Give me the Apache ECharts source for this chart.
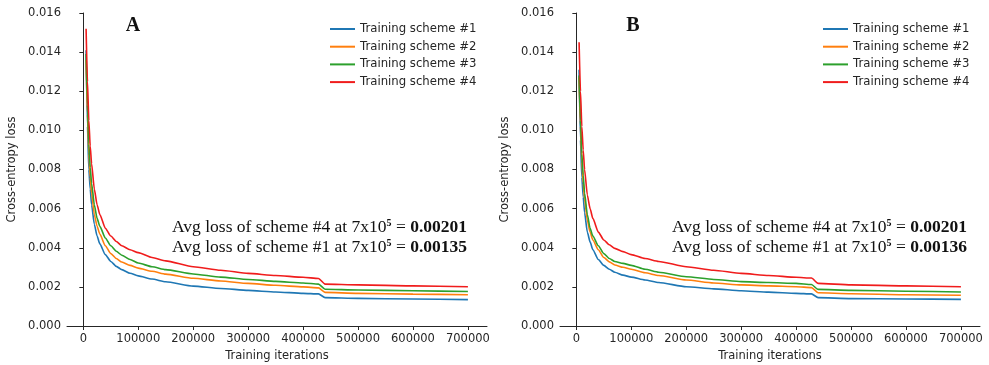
<!DOCTYPE html>
<html>
<head>
<meta charset="utf-8">
<script src="https://cdn.jsdelivr.net/npm/echarts@6/dist/echarts.min.js"></script>
<style>
html, body { margin: 0; padding: 0; background: #fff; }
#chart { width: 989px; height: 365px; }
</style>
</head>
<body>
<div id="chart"></div>
<script>
var iters = [5000, 7500, 10000, 12500, 15000, 20000, 25000, 30000, 40000, 50000, 60000, 70000, 85000, 100000, 125000, 150000, 200000, 250000, 300000, 350000, 400000, 428000, 440000, 500000, 600000, 700000];

var names = ['Training scheme #1', 'Training scheme #2', 'Training scheme #3', 'Training scheme #4'];
var colors = ['#1f77b4', '#ff7f0e', '#2ca02c', '#f01c1c'];

// panel A
var a_s1 = [0.0141, 0.0102, 0.0080, 0.0070, 0.0062, 0.0052, 0.0046, 0.0042, 0.00365, 0.0033, 0.00305, 0.00288, 0.0027, 0.00256, 0.0024, 0.00226, 0.00204, 0.00192, 0.00182, 0.00174, 0.00167, 0.00164, 0.00145, 0.00141, 0.00138, 0.00135];
var a_s2 = [0.0136, 0.0108, 0.0088, 0.0076, 0.0068, 0.0057, 0.0051, 0.0047, 0.0041, 0.0037, 0.00345, 0.00327, 0.0031, 0.00296, 0.0028, 0.00265, 0.00244, 0.0023, 0.00218, 0.00208, 0.00200, 0.00195, 0.00172, 0.00167, 0.00163, 0.0016];
var a_s3 = [0.0139, 0.0113, 0.0093, 0.0081, 0.0073, 0.0062, 0.0055, 0.0051, 0.0045, 0.0041, 0.00382, 0.00362, 0.0034, 0.00322, 0.00303, 0.00288, 0.00266, 0.0025, 0.00238, 0.00228, 0.0022, 0.00214, 0.00188, 0.00184, 0.0018, 0.00176];
var a_s4 = [0.0152, 0.0125, 0.0105, 0.0092, 0.0083, 0.0070, 0.0062, 0.0057, 0.0050, 0.0046, 0.00432, 0.0041, 0.0039, 0.00375, 0.0035, 0.00333, 0.00303, 0.00285, 0.00269, 0.00258, 0.00249, 0.00243, 0.00214, 0.0021, 0.00205, 0.00201];

// panel B
var b_s1 = [0.0131, 0.0095, 0.0076, 0.0066, 0.0058, 0.0048, 0.0043, 0.0039, 0.0034, 0.0031, 0.0029, 0.00275, 0.0026, 0.0025, 0.00235, 0.00222, 0.00201, 0.0019, 0.0018, 0.00173, 0.00167, 0.00164, 0.00145, 0.0014, 0.00138, 0.00136];
var b_s2 = [0.0127, 0.0102, 0.0084, 0.0073, 0.0065, 0.0054, 0.0048, 0.0044, 0.0039, 0.0035, 0.00328, 0.00312, 0.0030, 0.0029, 0.00272, 0.00258, 0.00235, 0.0022, 0.0021, 0.00205, 0.00201, 0.00196, 0.0017, 0.00165, 0.0016, 0.00157];
var b_s3 = [0.0128, 0.0105, 0.0088, 0.0077, 0.0068, 0.0057, 0.0050, 0.0046, 0.0041, 0.0037, 0.00345, 0.0033, 0.0032, 0.0031, 0.0029, 0.00275, 0.00252, 0.00238, 0.00227, 0.00222, 0.00218, 0.00212, 0.00187, 0.00182, 0.00178, 0.00174];
var b_s4 = [0.0145, 0.0120, 0.0102, 0.0090, 0.0080, 0.0067, 0.0060, 0.0055, 0.0048, 0.0044, 0.00415, 0.00397, 0.0038, 0.00365, 0.00345, 0.0033, 0.00303, 0.00285, 0.00269, 0.00258, 0.00249, 0.00245, 0.00218, 0.0021, 0.00205, 0.00201];

var xTicks = [0, 100000, 200000, 300000, 400000, 500000, 600000, 700000];

var myChart = echarts.init(document.getElementById('chart'));

function pair(ys) {
    return iters.map(function (x, i) { return [x, ys[i]]; });
}

var sans = 'DejaVu Sans';
var axisCol = '#262626';

function xAxisFor(idx) {
    return {
        type: 'value',
        gridIndex: idx,
        min: -29750,
        max: 734750,
        name: 'Training iterations',
        nameLocation: 'middle',
        nameGap: 24,
        nameTextStyle: { fontFamily: sans, fontSize: 11.5, color: axisCol },
        axisLine: { show: true, lineStyle: { color: axisCol, width: 1 } },
        axisTick: { show: true, length: 4, customValues: xTicks, lineStyle: { color: axisCol } },
        axisLabel: {
            customValues: xTicks, fontFamily: sans, fontSize: 11.5, color: axisCol, margin: 7,
            formatter: function (v) { return String(v); }
        },
        splitLine: { show: false }
    };
}

function yAxisFor(idx) {
    return {
        type: 'value',
        gridIndex: idx,
        min: 0,
        max: 0.016,
        interval: 0.002,
        name: 'Cross-entropy loss',
        nameLocation: 'middle',
        nameGap: 49,
        nameTextStyle: { fontFamily: sans, fontSize: 11.5, color: axisCol },
        axisLine: { show: true, lineStyle: { color: axisCol, width: 1 } },
        axisTick: { show: true, length: 4, lineStyle: { color: axisCol } },
        axisLabel: {
            fontFamily: sans, fontSize: 11.5, color: axisCol, margin: 6,
            formatter: function (v) { return v.toFixed(3); }
        },
        splitLine: { show: false }
    };
}

var panelData = [[a_s1, a_s2, a_s3, a_s4], [b_s1, b_s2, b_s3, b_s4]];
var series = [];
panelData.forEach(function (set, g) {
    set.forEach(function (ys, i) {
        series.push({
            name: names[i],
            type: 'line',
            xAxisIndex: g,
            yAxisIndex: g,
            data: pair(ys),
            showSymbol: false,
            smooth: 0.2,
            smoothMonotone: 'x',
            lineStyle: { color: colors[i], width: 1.6 },
            itemStyle: { color: colors[i] },
            animation: false
        });
    });
});

function legendFor(left) {
    return {
        data: names,
        orient: 'vertical',
        left: left,
        top: 17,
        icon: 'rect',
        itemWidth: 25,
        itemHeight: 2,
        itemGap: 3.7,
        textStyle: { fontFamily: sans, fontSize: 11.7, color: axisCol, lineHeight: 14 }
    };
}

function note(x, y, scheme, val) {
    return {
        type: 'text',
        x: x,
        y: y,
        style: {
            text: '{n|Avg loss of scheme #' + scheme + ' at 7x10}{s|5}{n| = }{b|' + val + '}',
            align: 'right',
            verticalAlign: 'middle',
            rich: {
                n: { fontFamily: 'Liberation Serif', fontSize: 17.5, fill: '#111' },
                s: { fontFamily: 'Liberation Serif', fontSize: 10, fontWeight: 'bold', fill: '#111', verticalAlign: 'top', padding: [0, 0, 7, 0] },
                b: { fontFamily: 'Liberation Serif', fontSize: 17.5, fontWeight: 'bold', fill: '#111' }
            }
        }
    };
}

function label(x, text) {
    return {
        type: 'text',
        x: x,
        y: 26,
        style: {
            text: text,
            align: 'center',
            verticalAlign: 'middle',
            fontFamily: 'Liberation Serif',
            fontSize: 20,
            fontWeight: 'bold',
            fill: '#111'
        }
    };
}

option = {
    backgroundColor: '#fff',
    grid: [
        { left: 67, top: 13, width: 420, height: 313, outerBoundsMode: 'none' },
        { left: 560, top: 13, width: 420, height: 313, outerBoundsMode: 'none' }
    ],
    xAxis: [xAxisFor(0), xAxisFor(1)],
    yAxis: [yAxisFor(0), yAxisFor(1)],
    legend: [legendFor(325), legendFor(818)],
    graphic: [
        label(133, 'A'),
        label(633, 'B'),
        note(467, 227, 4, '0.00201'),
        note(467, 247, 1, '0.00135'),
        note(967, 227, 4, '0.00201'),
        note(967, 247, 1, '0.00136')
    ],
    series: series
};

myChart.setOption(option);
</script>
</body>
</html>
